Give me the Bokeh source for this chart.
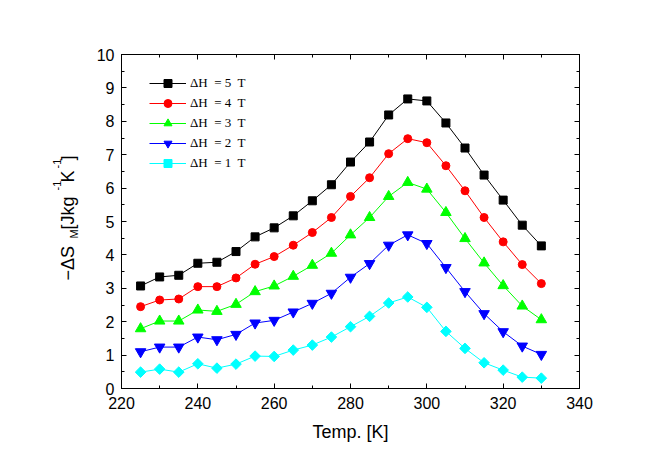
import math
from bokeh.plotting import figure
from bokeh.layouts import row
from bokeh.models import (Range1d, LinearAxis, SingleIntervalTicker, Label, Legend, LegendItem)
from bokeh.embed import file_html
from bokeh.resources import INLINE

# ---------------- data ----------------
temps = [225, 230, 235, 240, 245, 250, 255, 260, 265, 270, 275,
         280, 285, 290, 295, 300, 305, 310, 315, 320, 325, 330]
ds_5T = [3.07, 3.34, 3.39, 3.75, 3.78, 4.10, 4.54, 4.81, 5.17, 5.62, 6.10,
         6.78, 7.38, 8.19, 8.67, 8.61, 7.95, 7.20, 6.39, 5.64, 4.89, 4.27]
ds_4T = [2.45, 2.65, 2.68, 3.05, 3.05, 3.31, 3.72, 3.95, 4.29, 4.67, 5.12,
         5.75, 6.31, 7.03, 7.48, 7.36, 6.67, 5.92, 5.12, 4.39, 3.71, 3.14]
ds_3T = [1.79, 2.02, 2.02, 2.35, 2.31, 2.52, 2.90, 3.07, 3.36, 3.69, 4.05,
         4.60, 5.12, 5.75, 6.17, 5.97, 5.27, 4.49, 3.76, 3.08, 2.47, 2.06]
ds_2T = [1.10, 1.24, 1.24, 1.54, 1.46, 1.62, 1.96, 2.04, 2.29, 2.55, 2.85,
         3.33, 3.74, 4.29, 4.60, 4.34, 3.62, 2.90, 2.24, 1.70, 1.27, 1.02]
ds_1T = [0.49, 0.58, 0.49, 0.74, 0.61, 0.73, 0.97, 0.96, 1.15, 1.30, 1.54,
         1.85, 2.16, 2.56, 2.74, 2.43, 1.71, 1.20, 0.77, 0.55, 0.34, 0.31]

series_labels = ["ΔH  = 5  T", "ΔH  = 4  T", "ΔH  = 3  T", "ΔH  = 2  T", "ΔH  = 1  T"]
series_values = [ds_5T, ds_4T, ds_3T, ds_2T, ds_1T]
series_colors = ["#000000", "#FF0000", "#00FF00", "#0000FF", "#00FFFF"]
series_markers = ["square", "circle", "triangle", "inverted_triangle", "square"]
series_sizes = [8, 8, 10.5, 10.5, 7.5]
series_angles = [0, 0, 0, 0, math.pi / 4]

X_MIN, X_MAX = 220, 340
Y_MIN, Y_MAX = 0, 10

# ---------------- layout sizes ----------------
H = 451
LW = 90                     # width of the strip that holds the y-axis title
W = 656 - LW
BL, BR, BT, BB = 121 - LW, 77, 54, 63
FRAME_BOTTOM = H - BB       # frames in the row share top/bottom borders
STRIP_X0 = 14               # left edge of the strip's frame (measured)

# ---------------- y-axis title strip ----------------
lab_fig = figure(width=LW, height=H, output_backend="svg", toolbar_location=None,
                 x_axis_type=None, y_axis_type=None,
                 x_range=Range1d(0, 1), y_range=Range1d(0, 1),
                 min_border=0, min_border_left=0, min_border_right=0,
                 min_border_top=0, min_border_bottom=0,
                 outline_line_color=None, background_fill_color="white",
                 border_fill_color="white")
lab_fig.grid.visible = False

# (page-x of baseline, page-y of start of each piece, font size)
ylab_parts = [
    ("−ΔS", 81, 280, "18px"),
    ("M", 87, 238, "11px"),
    ("[Jkg", 81, 229, "18px"),
    ("-1", 70.5, 190, "11px"),
    ("K", 81, 182, "18px"),
    ("-1", 70.5, 168, "11px"),
    ("]", 81, 160, "18px"),
]
for txt, sx, sy, fs in ylab_parts:
    lab_fig.add_layout(Label(x=sx - STRIP_X0, y=FRAME_BOTTOM - sy,
                             x_units="screen", y_units="screen",
                             text=txt, angle=math.pi / 2,
                             text_align="left", text_baseline="alphabetic",
                             text_font="Liberation Sans", text_font_size=fs,
                             text_color="black"))

# ---------------- main figure ----------------
p = figure(width=W, height=H, output_backend="svg", toolbar_location=None,
           x_range=Range1d(X_MIN, X_MAX), y_range=Range1d(Y_MIN, Y_MAX),
           min_border_left=BL, min_border_right=BR, min_border_top=BT, min_border_bottom=BB,
           background_fill_color="white", border_fill_color="white")
p.xgrid.visible = False
p.ygrid.visible = False
p.outline_line_color = "black"
p.outline_line_width = 1

def style_axis(ax, show_labels):
    ax.axis_line_color = "black"
    ax.major_tick_line_color = "black"
    ax.minor_tick_line_color = "black"
    ax.major_tick_out = 0
    ax.minor_tick_out = 0
    ax.major_tick_in = 5
    ax.minor_tick_in = 3
    if show_labels:
        ax.major_label_text_font = "Liberation Sans"
        ax.major_label_text_font_size = "16px"
        ax.major_label_text_color = "black"
    else:
        ax.major_label_text_font_size = "0px"
        ax.major_label_standoff = 0

xa = p.xaxis[0]
xa.ticker = SingleIntervalTicker(interval=20, num_minor_ticks=2)
style_axis(xa, True)
xa.major_label_standoff = 8
xa.axis_label = "Temp. [K]"
xa.axis_label_text_font = "Liberation Sans"
xa.axis_label_text_font_size = "18px"
xa.axis_label_text_font_style = "normal"
xa.axis_label_text_color = "black"
xa.axis_label_standoff = 10

ya = p.yaxis[0]
ya.ticker = SingleIntervalTicker(interval=1, num_minor_ticks=2)
style_axis(ya, True)
ya.major_label_standoff = 7

top = LinearAxis(ticker=SingleIntervalTicker(interval=20, num_minor_ticks=2))
style_axis(top, False)
p.add_layout(top, "above")
right = LinearAxis(ticker=SingleIntervalTicker(interval=1, num_minor_ticks=2))
style_axis(right, False)
p.add_layout(right, "right")

items = []
for lab, vals, col, mk, sz, ang in zip(series_labels, series_values, series_colors,
                                       series_markers, series_sizes, series_angles):
    r1 = p.line(temps, vals, line_color=col, line_width=1)
    r2 = p.scatter(temps, vals, marker=mk, size=sz, angle=ang,
                   fill_color=col, line_color=col)
    items.append(LegendItem(label=lab, renderers=[r1, r2]))

legend = Legend(items=items, location=(28, 215), padding=0, margin=0, spacing=0,
                glyph_width=37, glyph_height=20, label_height=20, label_standoff=4,
                label_text_font="Liberation Serif", label_text_font_size="13px",
                label_text_color="black", border_line_color=None,
                background_fill_alpha=0)
p.add_layout(legend, "center")

layout = row(lab_fig, p, spacing=0)
open("out.html", "w").write(file_html(layout, INLINE))
